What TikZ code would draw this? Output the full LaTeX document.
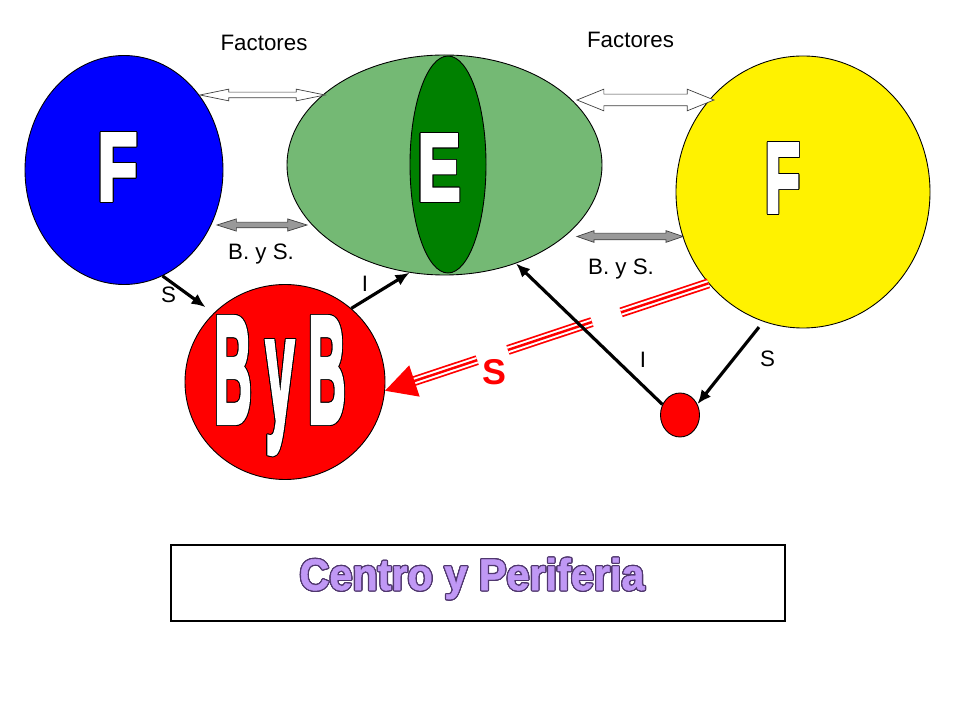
\documentclass[tikz,border=0pt]{standalone}
\usepackage{fontspec}
\setmainfont{Liberation Sans}
\newfontfamily\heavyfont[BoldFeatures={FakeBold=4}]{Liberation Sans}
\newfontfamily\titlefont[BoldFeatures={FakeBold=1.2}]{Liberation Sans}
\usepackage[copies]{contour}
\usetikzlibrary{shapes.geometric,shapes.arrows,calc,arrows.meta}
\definecolor{lightgreen}{RGB}{116,185,116}
\definecolor{darkgreen}{RGB}{0,128,0}
\definecolor{lilac}{RGB}{192,152,245}
\definecolor{plum}{RGB}{80,55,110}
\contourlength{0.5pt}
\tikzset{
  blob/.style={ellipse, draw=black, line width=0.5pt, inner sep=0pt},
  bigletter/.style={inner sep=0pt, anchor=base, text=white, font=\heavyfont\bfseries},
  lbl/.style={inner sep=0pt, anchor=base, font=\fontsize{12.7}{14}\selectfont},
  blockarrow/.style={double arrow, draw=black!75, line width=0.4pt, inner xsep=0pt},
  flow/.style={line width=1.8pt, -{Latex[length=0.28cm,width=0.24cm]}},
  triple/.style={draw=red, line width=0.2cm,
    postaction={draw=white, line width=0.13cm},
    postaction={draw=red, line width=0.05cm}}
}
\begin{document}
\begin{tikzpicture}
    \useasboundingbox (0,0) rectangle (19.2,14.4);
    \node[blob, fill=blue, minimum width=3.96cm, minimum height=4.58cm] (blueF) at (2.48,11.0) {};
    \node[blob, fill=lightgreen, minimum width=6.3cm, minimum height=4.4cm] (greenE) at (8.89,11.1) {};
    \node[blob, fill=darkgreen, minimum width=1.52cm, minimum height=4.34cm] (coreE) at (8.96,11.11) {};
    \node[blob, fill=yellow, minimum width=5.08cm, minimum height=5.44cm] (yellowF) at (16.06,10.56) {};
    \node[blob, fill=red, minimum width=4.0cm, minimum height=3.9cm] (redBB) at (5.7,6.76) {};
    \node[blob, fill=red, minimum width=0.78cm, minimum height=0.88cm] (dot) at (13.6,6.1) {};

    \node[bigletter] (letterF1) at (2.35,10.4) {\contour{black}{\resizebox{0.8cm}{1.32cm}{F}}};
    \node[bigletter] (letterE) at (8.78,10.4) {\contour{black}{\resizebox{0.86cm}{1.3cm}{E}}};
    \node[bigletter] (letterF2) at (15.65,10.16) {\contour{black}{\resizebox{0.7cm}{1.36cm}{F}}};
    \node[bigletter] (letterBB) at (5.6,5.96) {\contour{black}{\resizebox{2.62cm}{2.08cm}{B y B}}};

    \node[blockarrow, fill=white, minimum height=2.5cm, inner ysep=0.05cm,
      double arrow head extend=0.06cm, double arrow tip angle=23] (factArrowL) at (5.25,12.5) {};
    \node[blockarrow, fill=black!40, minimum height=1.8cm, inner ysep=0.05cm,
      double arrow head extend=0.065cm, double arrow tip angle=35] (bsArrowL) at (5.24,9.9) {};
    \node[blockarrow, fill=white, minimum height=2.74cm, inner ysep=0.11cm,
      double arrow head extend=0.1cm, double arrow tip angle=44] (factArrowR) at (12.91,12.4) {};
    \node[blockarrow, fill=black!40, minimum height=2.12cm, inner ysep=0.06cm,
      double arrow head extend=0.05cm, double arrow tip angle=38] (bsArrowR) at (12.6,9.67) {};

    \node[lbl] (factL) at (5.28,13.38) {Factores};
    \node[lbl] (factR) at (12.61,13.44) {Factores};
    \node[lbl] (bysL) at (5.22,9.2) {B. y S.};
    \node[lbl] (bysR) at (12.42,8.9) {B. y S.};
    \node[lbl] (sL) at (3.37,8.34) {S};
    \node[lbl] (iL) at (7.3,8.56) {I};
    \node[lbl] (iR) at (12.86,7.04) {I};
    \node[lbl] (sR) at (15.35,7.06) {S};
    \node[anchor=base, inner sep=0pt, text=red, font=\bfseries\fontsize{20.4}{24}\selectfont] (sRed) at (9.89,6.7) {S};

    \coordinate (sTail) at (yellowF.-136);
    \coordinate (sTip) at (redBB.-5.7);
    \coordinate (sHead) at ($(sTip)!0.091!(sTail)$);
    \foreach \a/\b in {0.085/0.285, 0.38/0.64, 0.73/1}
        \draw[triple] ($(sTip)!\a!(sTail)$) -- ($(sTip)!\b!(sTail)$);
    \fill[red] (sTip) -- ($(sHead)!0.33cm!90:(sTail)$) -- ($(sHead)!0.33cm!-90:(sTail)$) -- cycle;

    \draw[flow, shorten >=0.2cm] (blueF.-70) -- (redBB.136);
    \draw[flow] (redBB.48) -- (greenE.-108);
    \draw[flow] (dot.149) -- (greenE.-54);
    \draw[flow, shorten <=0.14cm] (yellowF.-107) -- (dot.32);

    \node[draw=black, line width=0.6pt, minimum width=12.28cm, minimum height=1.52cm, inner sep=0pt] (titleBox) at (9.56,2.74) {};
    \node[anchor=base, inner sep=0pt, text=lilac, font=\titlefont\bfseries] (title) at (9.44,2.6)
        {\contourlength{0.7pt}\contour{plum}{\resizebox{6.9cm}{0.64cm}{Centro y Periferia}}};
\end{tikzpicture}
\end{document}
